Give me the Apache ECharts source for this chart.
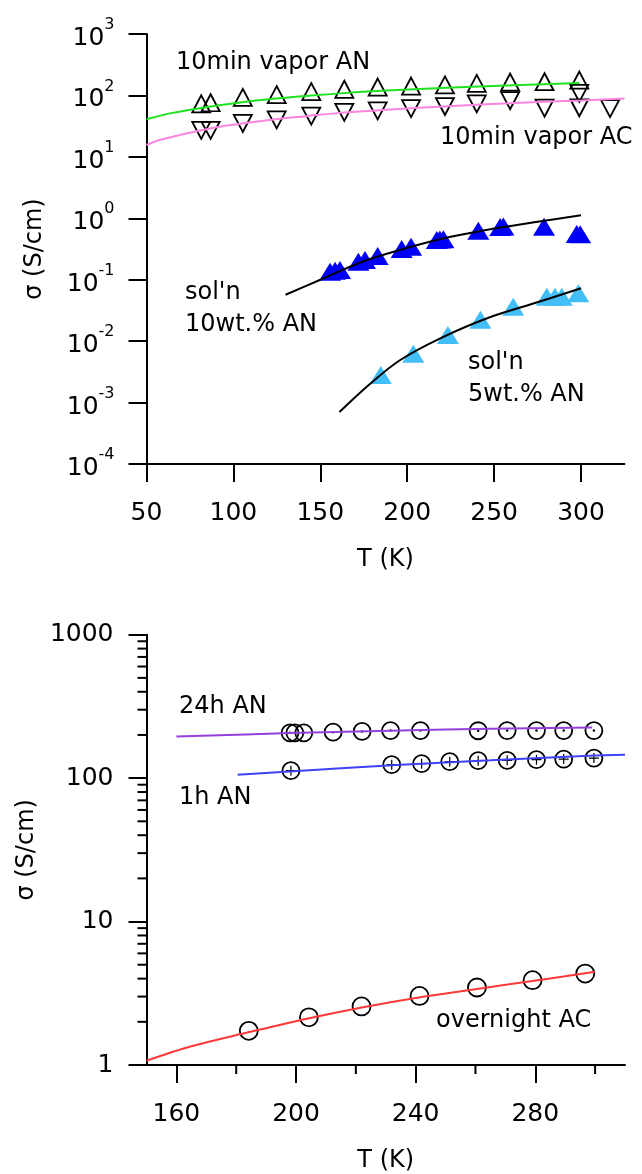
<!DOCTYPE html>
<html>
<head>
<meta charset="utf-8">
<script src="https://cdn.jsdelivr.net/npm/echarts@6/dist/echarts.min.js"></script>
<style>
  html, body { margin: 0; padding: 0; background: #fff; }
  #chart { width: 642px; height: 1174px; }
</style>
</head>
<body>
<div id="chart"></div>
<script>
// ---- Upper panel: conductivity vs temperature ----
// 10 min vapor doping, acetonitrile (AN), open up-triangles
const vaporAN_T = [81.5, 86.9, 105.4, 124.9, 144.8, 163.8, 183.0, 202.2, 221.7, 240.0, 259.2, 279.0, 299.0];
const vaporAN_S = [73, 76, 93, 103, 115, 126, 137, 142, 148, 157, 165, 167, 178];
// 10 min vapor doping, acetone (AC), open down-triangles
const vaporAC_T = [81.5, 86.9, 105.4, 124.9, 144.8, 163.8, 183.0, 202.2, 221.7, 240.0, 259.2, 279.0, 299.0, 299.0, 316.7];
const vaporAC_S = [27, 27, 35, 40, 46, 53, 56, 61, 66, 73, 82, 62, 108, 63, 61];
// solution doped, 10 wt.% AN, filled blue triangles
const sol10_T = [155.6, 158.5, 161.3, 171.9, 175.7, 183.0, 196.8, 202.2, 217.0, 218.8, 220.8, 240.9, 253.5, 255.3, 278.7, 297.5, 299.5];
const sol10_S = [0.135, 0.14, 0.144, 0.196, 0.209, 0.243, 0.316, 0.345, 0.443, 0.45, 0.455, 0.628, 0.72, 0.735, 0.73, 0.555, 0.55];
// solution doped, 5 wt.% AN, filled light-blue triangles
const sol5_T = [184.8, 203.5, 223.4, 242.1, 261.0, 280.3, 285.0, 288.9, 298.4];
const sol5_S = [0.00281, 0.00625, 0.0126, 0.0223, 0.0364, 0.053, 0.053, 0.053, 0.060];
// fitted curves
const fitAN_T = [50, 65, 85, 104, 123, 142, 161, 188, 226, 265, 299];
const fitAN_S = [41, 52, 65, 77, 88, 98, 108, 120, 134, 148, 160];
const fitAC_T = [50, 58, 85, 104, 123, 142, 161, 188, 226, 265, 300, 325];
const fitAC_S = [15.6, 19, 28.5, 34.5, 40.5, 46, 52, 58.5, 67, 76, 83, 89];
const fit10_T = [130, 150, 175, 200, 225, 250, 275, 300];
const fit10_S = [0.057, 0.1, 0.2, 0.33, 0.5, 0.68, 0.88, 1.12];
const fit5_T = [161, 179, 196, 219, 246, 273, 300];
const fit5_S = [0.0007, 0.00206, 0.00493, 0.0111, 0.0236, 0.0413, 0.0725];
const topTicksX = [50, 100, 150, 200, 250, 300];

// ---- Lower panel ----
const an24_T = [198.0, 199.6, 202.6, 212.4, 222.1, 231.6, 241.6, 260.9, 270.6, 280.4, 289.5, 299.6];
const an24_S = [207, 207, 207, 209, 211.5, 214.5, 214.5, 214, 214.5, 214.5, 214.5, 214.5];
const an1_T = [198.3, 232.0, 242.0, 251.4, 260.9, 270.6, 280.4, 289.5, 299.6];
const an1_S = [112.8, 124.1, 126.2, 130.3, 132.4, 133.1, 134.4, 135.9, 138];
const acON_T = [184.2, 204.3, 221.9, 241.3, 260.5, 279.1, 296.7];
const acON_S = [1.73, 2.15, 2.56, 3.03, 3.47, 3.90, 4.34];
const fit24_T = [160, 198, 235, 265, 299];
const fit24_S = [195, 206, 215, 221, 225.5];
const fit1_T = [180.5, 235, 265, 298, 310];
const fit1_S = [105.5, 124, 133, 143, 145.5];
const fitON_T = [150, 165, 184, 204, 222, 241, 260, 279, 300];
const fitON_S = [1.07, 1.35, 1.69, 2.11, 2.52, 2.96, 3.38, 3.85, 4.46];
const botMajorX = [160, 200, 240, 280];
const botMinorX = [180, 220, 260, 300];
const botMinorY = [2, 3, 4, 5, 6, 7, 8, 9, 20, 30, 40, 50, 60, 70, 80, 90, 200, 300, 400, 500, 600, 700, 800, 900];

const BOT_X_MIN = 150, BOT_X_MAX = 310, BOT_Y_MIN = 1, BOT_Y_MAX = 1000;

const FONT = 'DejaVu Sans';
const zip = (xs, ys) => xs.map((x, i) => [x, ys[i]]);

const axisLine = { show: true, onZero: false, lineStyle: { color: '#000', width: 2 } };
const tickStyle = { color: '#000', width: 2 };
const labelStyle = { color: '#000', fontFamily: FONT, fontSize: 25 };
const nameStyle = { color: '#000', fontFamily: FONT, fontSize: 24 };

function scatter(name, xi, yi, T, S, opts) {
  return Object.assign({
    name, type: 'scatter', xAxisIndex: xi, yAxisIndex: yi,
    data: zip(T, S), silent: true
  }, opts);
}
function fit(name, xi, yi, T, S, color) {
  return {
    name, type: 'line', xAxisIndex: xi, yAxisIndex: yi, data: zip(T, S),
    smooth: 0.35, showSymbol: false, symbol: 'none', silent: true,
    lineStyle: { color, width: 2 }, z: 3
  };
}
const hollow = { color: 'rgba(0,0,0,0)', borderColor: '#000', borderWidth: 1.8, opacity: 1 };
const solid = c => ({ color: c, opacity: 1 });
const plusPath = 'path://M4.4,0h1.2v4.4h4.4v1.2h-4.4v4.4h-1.2v-4.4h-4.4v-1.2h4.4z';

// short minor ticks on the lower panel's axes
const minorTickY = {
  name: 'minor y ticks', type: 'custom', xAxisIndex: 1, yAxisIndex: 1, silent: true, clip: false,
  data: botMinorY.map(v => [BOT_X_MIN, v]),
  renderItem: (params, api) => {
    const y = api.coord([BOT_X_MIN, api.value(1)])[1];
    const x = params.coordSys.x;
    return { type: 'line', shape: { x1: x - 9, y1: y, x2: x, y2: y }, style: { stroke: '#000', lineWidth: 2 } };
  }
};
const minorTickX = {
  name: 'minor x ticks', type: 'custom', xAxisIndex: 1, yAxisIndex: 1, silent: true, clip: false,
  data: botMinorX.map(t => [t, BOT_Y_MIN]),
  renderItem: (params, api) => {
    const x = api.coord([api.value(0), BOT_Y_MIN])[0];
    const y = params.coordSys.y + params.coordSys.height;
    return { type: 'line', shape: { x1: x, y1: y, x2: x, y2: y + 9 }, style: { stroke: '#000', lineWidth: 2 } };
  }
};

const chart = echarts.init(document.getElementById('chart'), null, { renderer: 'canvas' });
chart.setOption({
  animation: false,
  backgroundColor: '#fff',
  grid: [
    { left: 146.5, top: 34, width: 478, height: 430 },
    { left: 146.5, top: 634.7, width: 478.5, height: 431.3 }
  ],
  xAxis: [
    {
      gridIndex: 0, type: 'value', min: 50, max: 325,
      name: 'T (K)', nameLocation: 'middle', nameGap: 84, nameTextStyle: nameStyle,
      axisLine, splitLine: { show: false },
      axisTick: { length: 18, lineStyle: tickStyle, customValues: topTicksX },
      axisLabel: Object.assign({ margin: 37, customValues: topTicksX }, labelStyle)
    },
    {
      gridIndex: 1, type: 'value', min: BOT_X_MIN, max: BOT_X_MAX,
      name: 'T (K)', nameLocation: 'middle', nameGap: 84, nameTextStyle: nameStyle,
      axisLine, splitLine: { show: false },
      axisTick: { length: 18, lineStyle: tickStyle, customValues: botMajorX },
      axisLabel: Object.assign({ margin: 37, customValues: botMajorX }, labelStyle)
    }
  ],
  yAxis: [
    {
      gridIndex: 0, type: 'log', logBase: 10, min: 0.0001, max: 1000,
      name: 'σ (S/cm)', nameLocation: 'middle', nameGap: 100, nameTextStyle: nameStyle,
      axisLine, splitLine: { show: false },
      axisTick: { length: 18, lineStyle: tickStyle },
      axisLabel: {
        margin: 32, color: '#000',
        formatter: v => '{b|10}{s|' + Math.round(Math.log10(v)) + '}',
        rich: {
          b: { fontFamily: FONT, fontSize: 25, color: '#000', padding: [9, 0, 0, 0] },
          s: { fontFamily: FONT, fontSize: 16, color: '#000', verticalAlign: 'top' }
        }
      }
    },
    {
      gridIndex: 1, type: 'log', logBase: 10, min: BOT_Y_MIN, max: BOT_Y_MAX,
      name: 'σ (S/cm)', nameLocation: 'middle', nameGap: 100, nameTextStyle: nameStyle,
      axisLine, splitLine: { show: false },
      axisTick: { length: 18, lineStyle: tickStyle },
      axisLabel: Object.assign({ margin: 33, formatter: v => String(v) }, labelStyle)
    }
  ],
  series: [
    scatter('10min vapor AN', 0, 0, vaporAN_T, vaporAN_S, { symbol: 'triangle', symbolSize: [18, 17], itemStyle: hollow }),
    scatter('10min vapor AC', 0, 0, vaporAC_T, vaporAC_S, { symbol: 'triangle', symbolRotate: 180, symbolSize: [18, 17], itemStyle: hollow }),
    scatter('sol\'n 10wt.% AN', 0, 0, sol10_T, sol10_S, { symbol: 'triangle', symbolSize: [22, 18], itemStyle: solid('#0000F5') }),
    scatter('sol\'n 5wt.% AN', 0, 0, sol5_T, sol5_S, { symbol: 'triangle', symbolSize: [22, 18], itemStyle: solid('#43BEF6') }),
    fit('fit AN', 0, 0, fitAN_T, fitAN_S, '#1EE21E'),
    fit('fit AC', 0, 0, fitAC_T, fitAC_S, '#FA86E0'),
    fit('fit 10wt', 0, 0, fit10_T, fit10_S, '#000'),
    fit('fit 5wt', 0, 0, fit5_T, fit5_S, '#000'),

    scatter('24h AN', 1, 1, an24_T, an24_S, { symbol: 'circle', symbolSize: 17, itemStyle: hollow }),
    scatter('24h AN centre', 1, 1, an24_T, an24_S, { symbol: 'circle', symbolSize: 2.5, itemStyle: solid('#000') }),
    scatter('1h AN', 1, 1, an1_T, an1_S, { symbol: 'circle', symbolSize: 17, itemStyle: hollow }),
    scatter('1h AN bars', 1, 1, an1_T, an1_S, { symbol: plusPath, symbolSize: 10, itemStyle: solid('#000') }),
    scatter('overnight AC', 1, 1, acON_T, acON_S, { symbol: 'circle', symbolSize: 18, itemStyle: hollow }),
    fit('fit 24h', 1, 1, fit24_T, fit24_S, '#9440DC'),
    fit('fit 1h', 1, 1, fit1_T, fit1_S, '#4040F8'),
    fit('fit overnight', 1, 1, fitON_T, fitON_S, '#FF3838'),
    minorTickY,
    minorTickX
  ],
  graphic: [
    ['10min vapor AN', 176, 63],
    ['10min vapor AC', 440, 137.5],
    ['sol\'n', 185, 292.5],
    ['10wt.% AN', 185, 325],
    ['sol\'n', 468, 362.5],
    ['5wt.% AN', 468, 395],
    ['24h AN', 179, 707],
    ['1h AN', 179, 798],
    ['overnight AC', 436, 1021]
  ].map(([text, x, y]) => ({
    type: 'text', x, y, silent: true,
    style: { text, fill: '#000', fontFamily: FONT, fontSize: 24, align: 'left', verticalAlign: 'middle' }
  }))
});
</script>
</body>
</html>
